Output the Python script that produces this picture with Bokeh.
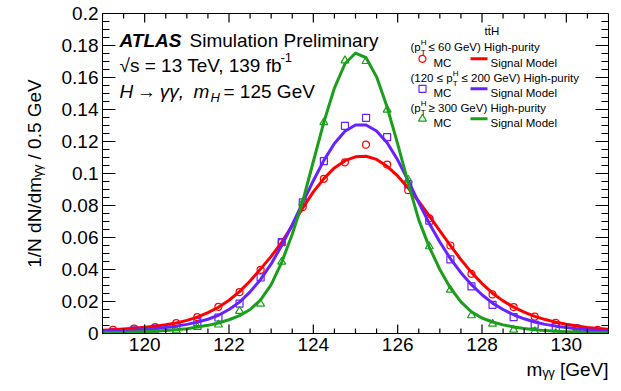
import numpy as np
from bokeh.plotting import figure
from bokeh.models import (Range1d, LinearAxis, FixedTicker, Label, Title,
                          CustomJSTickFormatter)
from bokeh.embed import file_html
from bokeh.resources import INLINE

# ---------------- data ----------------
mc_x = [119.25, 119.75, 120.25, 120.75, 121.25, 121.75, 122.25, 122.75, 123.25, 123.75,
        124.25, 124.75, 125.25, 125.75, 126.25, 126.75, 127.25, 127.75, 128.25, 128.75,
        129.25, 129.75, 130.25, 130.75]
mc_low = [0.0023, 0.0030, 0.0040, 0.0065, 0.0102, 0.0167, 0.0258, 0.0398, 0.0570, 0.0790,
          0.0967, 0.1070, 0.1180, 0.1056, 0.0896, 0.0720, 0.0550, 0.0373, 0.0244, 0.0165,
          0.0106, 0.0067, 0.0033, 0.0023]
mc_mid = [0.0008, 0.0019, 0.0030, 0.0046, 0.0071, 0.0100, 0.0187, 0.0350, 0.0571, 0.0820,
          0.1077, 0.1298, 0.1348, 0.1227, 0.0933, 0.0706, 0.0463, 0.0294, 0.0179, 0.0102,
          0.0056, 0.0040, 0.0030, 0.0006]
mc_high = [0.0000, 0.0000, 0.0002, 0.0019, 0.0040, 0.0055, 0.0140, 0.0185, 0.0448, 0.0820,
           0.1320, 0.1706, 0.1702, 0.1398, 0.0960, 0.0544, 0.0273, 0.0113, 0.0060, 0.0023,
           0.0013, 0.0002, 0.0000, 0.0000]

curve_x = [119.0, 119.25, 119.5, 119.75, 120.0, 120.25, 120.5, 120.75, 121.0, 121.25,
           121.5, 121.75, 122.0, 122.25, 122.5, 122.75, 123.0, 123.25, 123.5, 123.75,
           124.0, 124.25, 124.5, 124.75, 125.0, 125.25, 125.5, 125.75, 126.0, 126.25,
           126.5, 126.75, 127.0, 127.25, 127.5, 127.75, 128.0, 128.25, 128.5, 128.75,
           129.0, 129.25, 129.5, 129.75, 130.0, 130.25, 130.5, 130.75, 131.0]
model_low = [0.0020, 0.0023, 0.0028, 0.0033, 0.0039, 0.0046, 0.0055, 0.0066, 0.0082, 0.0102,
             0.0130, 0.0164, 0.0208, 0.0262, 0.0328, 0.0404, 0.0482, 0.0570, 0.0675, 0.0785,
             0.0885, 0.0968, 0.1035, 0.1080, 0.1104, 0.1108, 0.1088, 0.1045, 0.0985, 0.0910,
             0.0825, 0.0735, 0.0642, 0.0550, 0.0462, 0.0382, 0.0312, 0.0252, 0.0204, 0.0165,
             0.0133, 0.0107, 0.0087, 0.0071, 0.0058, 0.0047, 0.0038, 0.0031, 0.0026]
model_mid = [0.0013, 0.0015, 0.0018, 0.0021, 0.0026, 0.0031, 0.0038, 0.0046, 0.0057, 0.0071,
             0.0089, 0.0114, 0.0150, 0.0196, 0.0260, 0.0338, 0.0435, 0.0550, 0.0680, 0.0818,
             0.0955, 0.1082, 0.1188, 0.1264, 0.1303, 0.1303, 0.1266, 0.1192, 0.1085, 0.0955,
             0.0818, 0.0688, 0.0572, 0.0468, 0.0380, 0.0305, 0.0242, 0.0190, 0.0150, 0.0117,
             0.0092, 0.0072, 0.0057, 0.0046, 0.0037, 0.0030, 0.0024, 0.0020, 0.0017]
model_high = [0.0005, 0.0006, 0.0007, 0.0009, 0.0011, 0.0014, 0.0018, 0.0023, 0.0030, 0.0040,
              0.0051, 0.0066, 0.0086, 0.0112, 0.0150, 0.0210, 0.0305, 0.0445, 0.0620, 0.0828,
              0.1075, 0.1321, 0.1534, 0.1686, 0.1753, 0.1724, 0.1604, 0.1415, 0.1185, 0.0940,
              0.0710, 0.0540, 0.0400, 0.0285, 0.0198, 0.0135, 0.0097, 0.0072, 0.0054, 0.0041,
              0.0031, 0.0024, 0.0018, 0.0014, 0.0011, 0.0009, 0.0007, 0.0006, 0.0005]

x_ticks = [120, 122, 124, 126, 128, 130]
x_tick_labels = ["120", "122", "124", "126", "128", "130"]
y_ticks = [0.0, 0.02, 0.04, 0.06, 0.08, 0.10, 0.12, 0.14, 0.16, 0.18, 0.20]
y_tick_labels = ["0", "0.02", "0.04", "0.06", "0.08", "0.1", "0.12", "0.14", "0.16", "0.18", "0.2"]
x_title = "m\u1d67\u1d67 [GeV]"
y_title = "1/N dN/dm\u1d67\u1d67 / 0.5 GeV"

# ---------------- layout ----------------
W, H = 621, 391
FL, FR, FT, FB = 102, 608, 13, 333
XMIN, XMAX, YMIN, YMAX = 119.0, 131.0, 0.0, 0.2
FONT = "Liberation Sans"
RED, PURPLE, GREEN = "#ff0000", "#6622ff", "#1b9e1b"
XPX = (FR - FL) / (XMAX - XMIN)      # pixels per x unit
YPX = (FB - FT) / (YMAX - YMIN)      # pixels per y unit


def px2x(px):
    return XMIN + (px - FL) / XPX


def py2y(py):
    return YMIN + (FB - py) / YPX


p = figure(width=W, height=H, x_range=Range1d(XMIN, XMAX), y_range=Range1d(YMIN, YMAX),
           output_backend="svg", toolbar_location=None, x_axis_type=None, y_axis_type=None,
           min_border_left=FL, min_border_right=W - FR, min_border_top=FT,
           min_border_bottom=H - FB)
p.outline_line_color = "black"
p.outline_line_width = 1
p.background_fill_color = "white"
p.border_fill_color = "white"

x_minor = [XMIN + 0.5 * i for i in range(25)]
y_minor = [round(0.005 * i, 4) for i in range(41)]


def label_axis(ticks, labels):
    ax = LinearAxis(ticker=FixedTicker(ticks=ticks, minor_ticks=[]))
    ax.major_tick_in = 0
    ax.major_tick_out = 0
    ax.minor_tick_in = 0
    ax.minor_tick_out = 0
    ax.axis_line_color = "black"
    ax.formatter = CustomJSTickFormatter(
        args=dict(tv=ticks, tl=labels),
        code="for (let i = 0; i < tv.length; i++) { if (Math.abs(tv[i] - tick) < 1e-9) return tl[i]; } return '';")
    ax.major_label_text_font = FONT
    ax.major_label_text_font_size = "19px"
    ax.major_label_text_color = "black"
    ax.major_label_standoff = 4
    return ax


p.add_layout(label_axis(x_ticks, x_tick_labels), "below")
p.add_layout(label_axis(y_ticks, y_tick_labels), "left")

# y title: centred on a bounded invisible axis so that it ends at the top of the frame
ax_yt = LinearAxis(ticker=FixedTicker(ticks=[], minor_ticks=[]), bounds=(0.0895, 0.2))
ax_yt.axis_line_color = None
ax_yt.major_tick_in = ax_yt.major_tick_out = 0
ax_yt.minor_tick_in = ax_yt.minor_tick_out = 0
ax_yt.major_label_standoff = 0
ax_yt.formatter = CustomJSTickFormatter(code="return '';")
ax_yt.axis_label = y_title
ax_yt.axis_label_standoff = 14
ax_yt.axis_label_text_font = FONT
ax_yt.axis_label_text_font_size = "19px"
ax_yt.axis_label_text_font_style = "normal"
ax_yt.axis_label_text_color = "black"
p.add_layout(ax_yt, "left")

# x title: right-aligned under the axis
p.add_layout(Title(text=x_title, align="right", text_font=FONT, text_font_size="19px",
                   text_font_style="normal", text_color="black", standoff=7), "below")

# ---------------- marks ----------------
p.scatter(mc_x, mc_low, marker="circle", size=7, fill_color=None,
          line_color=RED, line_width=1.2)
p.scatter(mc_x, mc_mid, marker="square", size=7, fill_color=None,
          line_color=PURPLE, line_width=1.2)
p.scatter(mc_x, mc_high, marker="triangle", size=8, fill_color=None,
          line_color=GREEN, line_width=1.2)
p.line(curve_x, model_low, line_color=RED, line_width=3, line_join="round")
p.line(curve_x, model_mid, line_color=PURPLE, line_width=3, line_join="round")
p.line(curve_x, model_high, line_color=GREEN, line_width=3, line_join="round")

# ---------------- inward ticks on all four sides ----------------
TICK_W = 1.2
XMAJ, XMIN_T = 9 / YPX, 5 / YPX      # vertical tick lengths (data units)
YMAJ, YMIN_T = 13 / XPX, 7 / XPX     # horizontal tick lengths (data units)
xt_minor = [t for t in x_minor if t not in x_ticks]
yt_minor = [t for t in y_minor if all(abs(t - m) > 1e-9 for m in y_ticks)]
tick_xs, tick_ys = [], []
for xs, ln in [(x_ticks, XMAJ), (xt_minor, XMIN_T)]:
    for t in xs:
        tick_xs += [[t, t], [t, t]]
        tick_ys += [[YMIN, YMIN + ln], [YMAX, YMAX - ln]]
for ys, ln in [(y_ticks, YMAJ), (yt_minor, YMIN_T)]:
    for t in ys:
        tick_xs += [[XMIN, XMIN + ln], [XMAX, XMAX - ln]]
        tick_ys += [[t, t], [t, t]]
p.multi_line(xs=tick_xs, ys=tick_ys, line_color="black", line_width=TICK_W)


# ---------------- texts inside the frame ----------------
def run(text, px, py, size, style="normal"):
    p.add_layout(Label(x=px2x(px), y=py2y(py), text=text, text_font=FONT,
                       text_font_size=f"{size}px", text_font_style=style,
                       text_color="black", text_align="left",
                       text_baseline="alphabetic"))


BIG = 19
run("ATLAS", 119, 40, BIG, "bold italic")
run("Simulation Preliminary", 189, 40, BIG)
run("\u221as = 13 TeV, 139 fb", 119, 65, BIG)
run("-1", 280, 57, 13)
run("H\u2009\u2192\u2009\u03b3\u03b3,", 119, 91, BIG, "italic")
run("m", 193, 91, BIG, "italic")
run("H", 210, 97, 13, "italic")
run("= 125 GeV", 223, 91, BIG)

# ---------------- legend (ROOT-style block) ----------------
LEG_FS = 11.5
run("tt\u0304H", 484, 30, LEG_FS)
run("(p", 410, 46.5, LEG_FS)
run("H", 420.2, 42, 8)
run("T", 420.2, 51.5, 8)
run("\u2264 60 GeV)  High-purity", 428, 46.5, LEG_FS)
run("(120 \u2264 p", 410, 77.5, LEG_FS)
run("H", 452.2, 73, 8)
run("T", 452.2, 82.5, 8)
run("\u2264 200 GeV)  High-purity", 461, 77.5, LEG_FS)
run("(p", 410, 107, LEG_FS)
run("H", 420.2, 102.5, 8)
run("T", 420.2, 112, 8)
run("\u2265 300 GeV)  High-purity", 428, 107, LEG_FS)

KEY_X, TXT_MC, LINE_X0, LINE_X1, TXT_SM = 422, 433, 470, 487, 490
for marker, size, color, yc in [("circle", 7, RED, 58.3), ("square", 7, PURPLE, 88.3),
                                ("triangle", 8, GREEN, 118.3)]:
    p.scatter([px2x(KEY_X)], [py2y(yc)], marker=marker, size=size, fill_color=None,
              line_color=color, line_width=1.2)
    p.line([px2x(LINE_X0), px2x(LINE_X1)], [py2y(yc), py2y(yc)], line_color=color,
           line_width=3)
    run("MC", TXT_MC, yc + 4, LEG_FS)
    run("Signal Model", TXT_SM, yc + 4, LEG_FS)

open("out.html", "w").write(file_html(p, INLINE))
